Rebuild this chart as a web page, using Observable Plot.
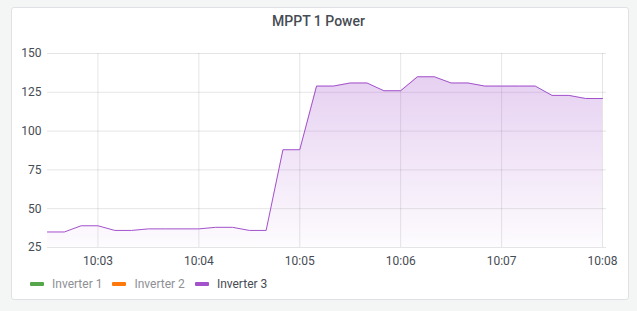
<!DOCTYPE html>
<html>
<head>
<meta charset="utf-8">
<script src="https://cdn.jsdelivr.net/npm/d3@7"></script>
<script src="https://cdn.jsdelivr.net/npm/@observablehq/plot@0.6"></script>
<style>
  html, body { margin: 0; padding: 0; background: #f4f5f5; font-family: Roboto, "Noto Sans", sans-serif; }
  #wrap { position: relative; width: 637px; height: 311px; overflow: hidden; }
  #panel { position: absolute; left: 11px; top: 7px; width: 618px; height: 293px; background: #fff; border: 1px solid #dfe1e4; border-radius: 3px; box-sizing: border-box; }
  #title { position: absolute; left: 0; top: 13px; width: 637px; text-align: center; font-size: 14px; font-weight: 500; color: #464c54; }
  #chart { position: absolute; left: 0; top: 40px; }
  #legend { position: absolute; left: 30px; top: 277px; display: flex; align-items: center; font-size: 12px; }
  .item { display: flex; align-items: center; margin-right: 10px; }
  .sw { width: 14px; height: 4px; border-radius: 1px; margin-right: 8px; }
</style>
</head>
<body>
<div id="wrap">
  <div id="panel"></div>
  <div id="title">MPPT 1 Power</div>
  <div id="chart"></div>
  <div id="legend"></div>
</div>
<script>
const times = ["10:02:30","10:02:40","10:02:50","10:03:00","10:03:10","10:03:20","10:03:30","10:03:40","10:03:50","10:04:00",
  "10:04:10","10:04:20","10:04:30","10:04:40","10:04:50","10:05:00","10:05:10","10:05:20","10:05:30","10:05:40",
  "10:05:50","10:06:00","10:06:10","10:06:20","10:06:30","10:06:40","10:06:50","10:07:00","10:07:10","10:07:20",
  "10:07:30","10:07:40","10:07:50","10:08:00"];
const inverter3 = [35,35,39,39,36,36,37,37,37,37,
  38,38,36,36,88,88,129,129,131,131,
  126,126,135,135,131,131,129,129,129,129,
  123,123,121,121];
const seriesNames = ["Inverter 1","Inverter 2","Inverter 3"];
const seriesColors = ["#56a64b","#ff780a","#a352cc"];
const yTicks = [25,50,75,100,125,150];
const xTickLabels = ["10:03","10:04","10:05","10:06","10:07","10:08"];

const parse = s => new Date("2024-01-01T" + s);
const data = times.map((t, i) => ({t: parse(t), v: inverter3[i]}));
const xTicks = xTickLabels.map(s => parse(s + ":00"));

const gradDefs = () => {
  const defs = d3.create("svg:defs");
  const g = defs.append("linearGradient").attr("id", "fillGrad")
    .attr("gradientUnits", "userSpaceOnUse").attr("x1", 0).attr("x2", 0).attr("y1", 30).attr("y2", 207);
  g.append("stop").attr("offset", "0%").attr("stop-color", "#a352cc").attr("stop-opacity", 0.28);
  g.append("stop").attr("offset", "100%").attr("stop-color", "#a352cc").attr("stop-opacity", 0.02);
  return defs.node();
};

const chart = Plot.plot({
  width: 637,
  height: 232,
  marginLeft: 47,
  marginRight: 35,
  marginTop: 13,
  marginBottom: 25,
  style: {fontFamily: "Roboto, sans-serif", fontSize: "12px", color: "#464c54", background: "transparent", overflow: "visible"},
  x: {type: "time", domain: [data[0].t, data[data.length - 1].t]},
  y: {domain: [25, 150]},
  marks: [
    gradDefs,
    Plot.gridY(yTicks, {stroke: "#000", strokeOpacity: 0.1, insetRight: -4}),
    Plot.gridX(xTicks, {stroke: "#000", strokeOpacity: 0.1}),
    Plot.areaY(data, {x: "t", y1: 25, y2: "v", fill: "url(#fillGrad)"}),
    Plot.line(data, {x: "t", y: "v", stroke: seriesColors[2], strokeWidth: 1}),
    Plot.axisY(yTicks, {tickSize: 0, tickPadding: 6, label: null, fill: "#464c54"}),
    Plot.axisX(xTicks, {tickSize: 0, tickPadding: 9, label: null, tickFormat: d3.timeFormat("%H:%M"), fill: "#464c54"})
  ]
});
document.getElementById("chart").appendChild(chart);

const legend = document.getElementById("legend");
seriesNames.forEach((n, i) => {
  const it = document.createElement("div");
  it.className = "item";
  const sw = document.createElement("div");
  sw.className = "sw";
  sw.style.background = seriesColors[i];
  const tx = document.createElement("span");
  tx.textContent = n;
  tx.style.color = i === 2 ? "#464c54" : "#8e9096";
  it.appendChild(sw); it.appendChild(tx);
  legend.appendChild(it);
});
</script>
</body>
</html>
